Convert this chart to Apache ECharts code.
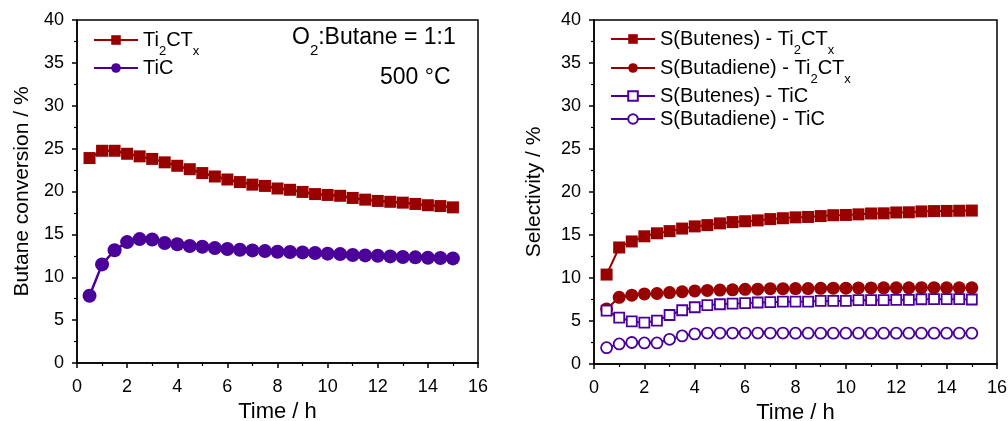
<!DOCTYPE html>
<html><head><meta charset="utf-8">
<script src="https://cdn.jsdelivr.net/npm/echarts@6/dist/echarts.min.js"></script>
<style>html,body{margin:0;padding:0;background:#fff}#c{width:1008px;height:421px}</style>
</head><body><div id="c"></div>
<script>
const time = [0.5,1,1.5,2,2.5,3,3.5,4,4.5,5,5.5,6,6.5,7,7.5,8,8.5,9,9.5,10,10.5,11,11.5,12,12.5,13,13.5,14,14.5,15];
const convTi2CTx = [23.9,24.75,24.75,24.4,24.1,23.8,23.4,23.0,22.6,22.15,21.75,21.4,21.1,20.8,20.65,20.35,20.2,19.95,19.7,19.6,19.5,19.25,19.05,18.9,18.8,18.7,18.55,18.4,18.3,18.15];
const convTiC = [7.85,11.5,13.15,14.1,14.45,14.4,14.0,13.85,13.65,13.55,13.4,13.3,13.2,13.13,13.05,12.98,12.94,12.9,12.82,12.75,12.7,12.6,12.55,12.5,12.43,12.36,12.32,12.28,12.24,12.2];
const selButenesTi2CTx = [10.4,13.55,14.25,14.85,15.2,15.45,15.75,16.0,16.15,16.35,16.5,16.6,16.7,16.85,16.95,17.05,17.1,17.2,17.3,17.33,17.4,17.5,17.52,17.62,17.64,17.74,17.78,17.8,17.82,17.84];
const selButadieneTi2CTx = [6.4,7.75,8.0,8.15,8.2,8.3,8.4,8.5,8.55,8.6,8.62,8.68,8.7,8.76,8.76,8.77,8.77,8.8,8.82,8.82,8.85,8.85,8.86,8.86,8.86,8.88,8.88,8.86,8.86,8.86];
const selButenesTiC = [6.2,5.4,4.95,4.8,5.05,5.7,6.25,6.6,6.85,6.95,7.03,7.07,7.15,7.19,7.25,7.25,7.26,7.33,7.33,7.34,7.42,7.42,7.42,7.46,7.46,7.53,7.54,7.54,7.54,7.5];
const selButadieneTiC = [1.9,2.33,2.5,2.45,2.45,2.87,3.27,3.5,3.6,3.6,3.6,3.6,3.6,3.6,3.6,3.58,3.58,3.58,3.58,3.58,3.58,3.58,3.58,3.58,3.58,3.58,3.58,3.58,3.58,3.58];
const xTicks = [0,2,4,6,8,10,12,14,16];
const yTicks = [0,5,10,15,20,25,30,35,40];

const RED = '#990000', PUR = '#4B0099';
const FONT = 'Liberation Sans, Arial, sans-serif';
const pairs = a => time.map((t,i)=>[t,a[i]]);
const rich = {
  n:{fontSize:20,fontFamily:FONT,color:'#000'},
  s:{fontSize:13,fontFamily:FONT,color:'#000',verticalAlign:'bottom',padding:[0,0,-8,0]}
};
function axisX(idx){return {gridIndex:idx,type:'value',min:0,max:16,interval:2,
  name:'Time / h',nameLocation:'middle',nameGap:33,
  nameTextStyle:{fontSize:22,fontFamily:FONT,color:'#000'},
  axisLine:{onZero:false,lineStyle:{color:'#000',width:1.5}},
  axisTick:{inside:false,length:5,lineStyle:{color:'#000',width:1.5}},
  minorTick:{show:true,splitNumber:2,length:3,lineStyle:{color:'#000',width:1.2}},
  axisLabel:{fontSize:18,fontFamily:FONT,color:'#000',margin:15,
    formatter:v=>xTicks.includes(v)?String(v):''},
  splitLine:{show:false}};}
function axisY(idx,name,gap){return {gridIndex:idx,type:'value',min:0,max:40,interval:5,
  name:name,nameLocation:'middle',nameGap:gap,
  nameTextStyle:{fontSize:21,fontFamily:FONT,color:'#000'},
  axisLine:{onZero:false,lineStyle:{color:'#000',width:1.5}},
  axisTick:{inside:false,length:5,lineStyle:{color:'#000',width:1.5}},
  minorTick:{show:true,splitNumber:2,length:3,lineStyle:{color:'#000',width:1.2}},
  axisLabel:{fontSize:18,fontFamily:FONT,color:'#000',margin:13,
    formatter:v=>yTicks.includes(v)?String(v):''},
  splitLine:{show:false}};}
function ser(name,data,xi,color,symbol,size,open,lw){
  return {name:name,type:'line',xAxisIndex:xi,yAxisIndex:xi,data:pairs(data),
    symbol:symbol,symbolSize:size,showSymbol:true,animation:false,
    lineStyle:{color:color,width:lw},
    itemStyle:open?{color:'#fff',borderColor:color,borderWidth:1.8}:{color:color,borderColor:color,borderWidth:0}};
}
function leg(name,left,top){
  return {show:true,data:[name],left:left,top:top,orient:'vertical',
    itemWidth:44,itemHeight:12,itemGap:0,padding:0,
    textStyle:{fontSize:20,fontFamily:FONT,color:'#000',rich:rich},
    formatter:n=>'{n|'+n.replace(/Ti2CTx/,'Ti}{s|2}{n|CT}{s|x}{n|')+'}'};
}
const chart = echarts.init(document.getElementById('c'),null,{renderer:'canvas'});
chart.setOption({
  animation:false,
  grid:[
    {left:77,right:530,top:20,bottom:58,outerBoundsMode:'none',containLabel:false,show:true,borderColor:'#000',borderWidth:1.5,backgroundColor:'transparent'},
    {left:594,right:11,top:20,bottom:57,outerBoundsMode:'none',containLabel:false,show:true,borderColor:'#000',borderWidth:1.5,backgroundColor:'transparent'}
  ],
  xAxis:[axisX(0),axisX(1)],
  yAxis:[axisY(0,'Butane conversion / %',44),axisY(1,'Selectivity / %',49)],
  legend:[
    leg('Ti2CTx',93,30), leg('TiC',93,58),
    leg('S(Butenes) - Ti2CTx',610,29), leg('S(Butadiene) - Ti2CTx',610,58),
    leg('S(Butenes) - TiC',610,86), leg('S(Butadiene) - TiC',610,109)
  ],
  series:[
    ser('Ti2CTx',convTi2CTx,0,RED,'rect',12,false,2.5),
    ser('TiC',convTiC,0,PUR,'circle',14,false,2.5),
    ser('S(Butenes) - Ti2CTx',selButenesTi2CTx,1,RED,'rect',12,false,2),
    ser('S(Butadiene) - Ti2CTx',selButadieneTi2CTx,1,RED,'circle',13,false,2),
    ser('S(Butenes) - TiC',selButenesTiC,1,PUR,'rect',10,true,2),
    ser('S(Butadiene) - TiC',selButadieneTiC,1,PUR,'circle',11,true,2)
  ],
  graphic:[
    {type:'text',left:292,top:26,style:{text:'{n|O}{s|2}{n|:Butane = 1:1}',
      rich:{n:{fontSize:23,fontFamily:FONT,fill:'#000'},s:{fontSize:15,fontFamily:FONT,fill:'#000',verticalAlign:'bottom',padding:[0,0,-9,0]}}}},
    {type:'text',left:380,top:66,style:{text:'500 °C',fontSize:23,fontFamily:FONT,fill:'#000'}}
  ]
});
</script></body></html>
